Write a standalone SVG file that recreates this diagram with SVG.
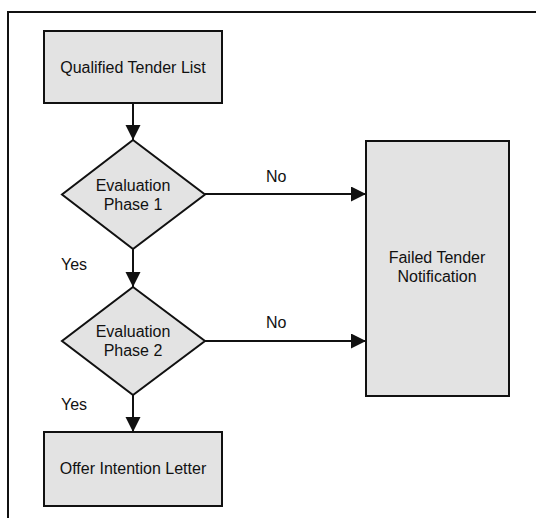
<svg xmlns="http://www.w3.org/2000/svg" width="536" height="518" viewBox="0 0 536 518">
<style>
.box{fill:#e3e3e3;stroke:#111;stroke-width:2}
.ln{stroke:#111;stroke-width:2;fill:none}
text{font-family:"Liberation Sans",Arial,sans-serif;font-size:16px;fill:#111;text-anchor:middle}
.lbl{text-anchor:start}
</style>
<defs>
<marker id="ah" markerUnits="userSpaceOnUse" markerWidth="16" markerHeight="16" refX="15" refY="7.5" orient="auto">
<path d="M0,0 L15,7.5 L0,15 Z" fill="#111"/>
</marker>
</defs>
<rect width="536" height="518" fill="#fff"/>
<path d="M8,518 V12 H536" class="ln"/>
<g id="connectors">
<line x1="133" y1="104" x2="133" y2="140" class="ln" marker-end="url(#ah)"/>
<line x1="133" y1="249" x2="133" y2="287" class="ln" marker-end="url(#ah)"/>
<line x1="133" y1="395" x2="133" y2="432" class="ln" marker-end="url(#ah)"/>
<line x1="205" y1="194" x2="366" y2="194" class="ln" marker-end="url(#ah)"/>
<line x1="205" y1="341" x2="366" y2="341" class="ln" marker-end="url(#ah)"/>
<text x="266" y="182" class="lbl">No</text>
<text x="266" y="328" class="lbl">No</text>
<text x="61" y="270" class="lbl">Yes</text>
<text x="61" y="410" class="lbl">Yes</text>
</g>
<g id="qualified">
<rect x="44" y="31" width="178" height="72" class="box"/>
<text x="133" y="73">Qualified Tender List</text>
</g>
<g id="eval1">
<path d="M133,140 L205,194.5 L133,249 L62,194.5 Z" class="box"/>
<text x="133" y="191">Evaluation</text>
<text x="133" y="210">Phase 1</text>
</g>
<g id="eval2">
<path d="M133,287 L205,341 L133,395 L62,341 Z" class="box"/>
<text x="133" y="337">Evaluation</text>
<text x="133" y="356">Phase 2</text>
</g>
<g id="failed">
<rect x="366" y="141" width="143" height="255" class="box"/>
<text x="437" y="263">Failed Tender</text>
<text x="437" y="282">Notification</text>
</g>
<g id="offer">
<rect x="44" y="432" width="178" height="74" class="box"/>
<text x="133" y="474">Offer Intention Letter</text>
</g>
</svg>
